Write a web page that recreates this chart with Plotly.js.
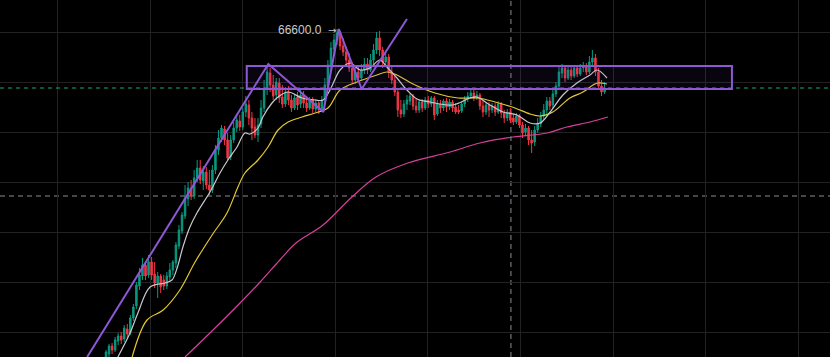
<!DOCTYPE html>
<html>
<head>
<meta charset="utf-8">
<script src="https://cdn.plot.ly/plotly-3.0.1.min.js"></script>
<style>html,body{margin:0;padding:0;background:#000;}#chart{width:830px;height:357px;}</style>
</head>
<body>
<div id="chart"></div>
<script>
// Daily candles (index = day number)
const openP = [33800,34100,34900,34500,35400,35900,35600,36600,36200,37700,
38900,40900,41900,43000,42000,43300,42100,41200,41900,41500,
40900,41800,42500,43200,44900,46400,47900,49600,50700,49900,
51700,52700,51400,52300,51000,50500,52500,54500,55700,56600,
55500,53800,55500,56700,57400,56800,58300,59000,57700,56800,
56000,57100,58700,60600,62200,61000,60000,61200,59800,59100,
60300,59500,58700,59800,59100,60000,59200,58700,59500,58600,
59200,58500,59500,60900,62900,64600,65500,66200,64900,64300,
63500,62700,61500,62300,61700,62500,63100,62500,63500,64500,
65700,64500,63300,63800,62300,61500,60300,58500,58100,59100,
59400,59900,58900,58500,59300,58700,59500,59100,59700,58100,
59100,58700,59400,58800,59300,58800,58500,58400,59100,59600,
59900,60200,59700,60000,58900,58300,59000,58500,58900,58300,
59100,58200,57700,58300,57700,57300,57900,57000,56300,56700,
55500,55300,56500,57100,57900,58500,59400,59000,60100,60900,
62200,62700,61700,62500,61900,62700,62100,62700,62900,62300,
63300,63700,62300,60900,60300];
const highP = [34500,35100,35200,35800,36200,36300,37000,37100,38000,39100,
41300,42700,43700,43300,44000,43800,43300,42300,42100,42000,
42300,43200,43500,45300,47000,48300,51000,51300,51500,52500,
53500,53500,52900,52800,52500,53000,55000,56500,57000,56900,
56200,56000,57300,58100,58000,58700,59900,59500,58300,57700,
57700,59500,61500,63000,62700,62000,61700,61700,61000,60800,
60900,60000,60100,60300,60500,60400,59900,59800,59800,59600,
59500,59900,61700,63500,65300,66100,66600,66400,65700,64800,
64200,63300,62900,62900,63100,63700,63700,64100,65100,66300,
66400,64800,64300,64100,62900,61900,60700,59500,59500,60000,
60200,60100,59700,59600,59600,59800,59900,59900,59900,59500,
59500,59600,59700,59600,59500,59200,59000,59300,59900,60300,
60600,60500,60400,60200,59500,59300,59300,59200,59200,59400,
59300,58500,58600,58700,58100,58200,58100,57300,57100,56900,
56500,56900,57700,58300,59100,59800,59800,60600,61300,62800,
63100,62900,62900,62900,63000,63000,63100,63300,63200,63900,
64500,64100,62700,61500,61300];
const lowP = [33500,33800,34100,34300,35000,35100,35300,35700,36000,37400,
38600,40500,41500,41500,41700,41500,40700,39700,40200,40500,
40600,41400,42000,42700,44600,46100,47600,48900,49500,49600,
51300,51100,50500,50600,50000,50200,52100,54000,55300,55000,
53500,53500,55200,56300,56400,56500,57800,57000,55500,55700,
55300,56700,58300,60000,60300,59500,59500,59200,58700,58800,
59000,58300,58500,58500,58700,58700,58300,58500,58200,58300,
58100,58300,59000,60500,62500,64000,65000,64500,63900,63100,
62300,61100,61100,61300,61500,62100,62100,62300,63100,64100,
63900,62700,62900,61700,61100,59900,57800,57700,57800,58500,
59000,58500,58200,58200,58300,58500,58700,58800,57500,57900,
58200,58400,58300,58500,58300,58100,58100,58200,58800,59300,
59700,59400,59500,58500,57800,58000,57800,58200,57900,58100,
57700,57200,57400,57200,57000,57100,56700,55700,56000,55000,
54200,54900,56200,56800,57500,58100,58500,58700,59800,60500,
61700,61300,61500,61500,61700,61800,61900,62300,62000,62100,
62900,61900,60500,59900,60100];
const closeP = [34300,34900,34500,35500,35900,35500,36700,36100,37700,38800,
41000,42000,43000,41900,43300,42000,41200,41900,40800,40900,
41900,42500,43300,45000,46500,48000,49700,50700,49900,51700,
52700,51500,52300,51000,50500,52500,54500,55700,56700,55500,
53700,55500,56700,57500,56800,58300,59100,57700,56700,56000,
57000,58700,60700,62300,61000,59900,61300,59700,59100,60300,
59500,58700,59700,59000,60000,59200,58700,59500,58600,59200,
58500,59500,61000,63000,64700,65500,66200,64900,64300,63500,
62700,61500,62300,61700,62500,63100,62500,63500,64500,65700,
64500,63300,63800,62300,61500,60300,58500,58100,59100,59500,
59900,58900,58500,59300,58700,59500,59100,59700,58000,59100,
58700,59400,58800,59300,58700,58300,58300,59100,59600,59900,
60200,59700,60000,58900,58300,59000,58500,58900,58300,59100,
58200,57700,58300,57500,57300,57900,57000,56200,56700,55500,
55200,56500,57100,57900,58500,59400,58900,60100,60900,62300,
62700,61700,62500,61900,62700,62100,62700,62900,62300,63300,
63700,62300,60900,60300,60700];

// Moving averages (day index, price)
const maFastX = [3.9,7.9,10.5,14.5,19.4,21.7,23.4,25.3,27.6,29.9,34.2,37.5,40.1,43.1,45.7,47.4,50.0,51.6,54.6,56.6,59.9,64.5,68.8,71.4,73.7,77.0,80.3,83.6,86.8,90.1,92.4,95.7,99.0,102.3,106.6,114.1,119.7,122.0,126.3,130.6,135.2,139.5,142.8,146.1,150.3,154.9,159.2,161.5,164.8];
const maFastY = [33800,36200,38200,40800,41200,41500,42700,44800,46800,48200,50300,52200,53500,54800,56200,56100,56700,57800,59200,59800,60300,59700,59500,59500,60500,62500,63200,62500,62700,63500,62800,61700,60500,59600,59300,59000,59700,59800,59000,58300,58000,57200,57200,58300,60000,61200,62000,62500,61700];
const maMidX = [8.6,13.5,18.8,24.3,29.3,34.9,39.8,43.4,45.7,50.0,53.3,56.6,59.9,64.5,68.8,73.0,77.0,82.6,89.1,92.4,95.7,101.0,108.2,115.8,122.4,128.0,134.5,139.5,142.8,147.0,152.6,156.9,160.2,161.8,164.8];
const maMidY = [33800,37500,38500,40500,43300,46000,48200,50800,52200,53500,54800,56500,57300,57800,58200,58700,60500,61300,62000,62300,62000,61100,60200,59700,59700,59300,58700,58100,57900,58300,59700,60300,61000,61200,61100];
const maSlowX = [26.0,35.2,44.1,50.7,57.2,62.5,71.4,80.9,88.8,99.3,113.2,123.0,133.9,145.1,151.6,159.2,165.1];
const maSlowY = [33800,36500,39200,41300,43500,45200,47000,49800,51800,53200,54300,55200,55800,56200,56800,57300,57800];

// Drawings
const zigX = [-6.2,53.4,71.5,76.6,84.1,99.0];
const zigY = [33800,63100,58300,66600,60600,67600];
const boxX = [46.3,205.9];
const boxY = [60600,62900];
const lastPrice = 60700;
const crossX = 133.2, crossY = 49900;
const peakLabel = '66600.0';
const peakArrow = '→';

const idx = closeP.map((_, i) => i);
const purple = '#8e57d6';

const traces = [
  {type:'candlestick', x: idx, open: openP, high: highP, low: lowP, close: closeP,
   increasing:{line:{color:'#089981', width:1}, fillcolor:'#089981'},
   decreasing:{line:{color:'#f23645', width:1}, fillcolor:'#f23645'},
   whiskerwidth:0, hoverinfo:'skip', showlegend:false},
  {type:'scatter', mode:'lines', x: maSlowX, y: maSlowY, line:{color:'#d6409a', width:1.2, shape:'spline'}, hoverinfo:'skip', showlegend:false},
  {type:'scatter', mode:'lines', x: maMidX, y: maMidY, line:{color:'#e3c733', width:1.2, shape:'spline'}, hoverinfo:'skip', showlegend:false},
  {type:'scatter', mode:'lines', x: maFastX, y: maFastY, line:{color:'#c9cad0', width:1.2, shape:'spline'}, hoverinfo:'skip', showlegend:false},
  {type:'scatter', mode:'lines', x: zigX, y: zigY, line:{color:purple, width:2}, hoverinfo:'skip', showlegend:false}
];

const pxPerDay = 3.04, firstPx = 106;
const layout = {
  width:830, height:357,
  margin:{l:0,r:0,t:0,b:0},
  paper_bgcolor:'#000', plot_bgcolor:'#000',
  showlegend:false,
  xaxis:{range:[-firstPx/pxPerDay, (830-firstPx)/pxPerDay], showticklabels:false, ticks:'',
         showgrid:true, gridcolor:'#222', gridwidth:1, zeroline:false, tick0:-15.95, dtick:30.46,
         rangeslider:{visible:false}, showline:false, fixedrange:true},
  yaxis:{range:[33800,69500], showticklabels:false, ticks:'', showgrid:true, gridcolor:'#222', gridwidth:1,
         zeroline:false, tick0:1300, dtick:5000, showline:false, fixedrange:true},
  shapes:[
    {type:'line', xref:'paper', x0:0, x1:1, yref:'y', y0:crossY, y1:crossY, line:{color:'#8a8d96', width:1, dash:'5px,4px'}, layer:'below'},
    {type:'line', yref:'paper', y0:0, y1:1, xref:'x', x0:crossX, x1:crossX, line:{color:'#8a8d96', width:1, dash:'5px,4px'}, layer:'below'},
    {type:'line', xref:'paper', x0:0, x1:1, yref:'y', y0:lastPrice, y1:lastPrice, line:{color:'#1fa37f', width:1, dash:'4px,4px'}},
    {type:'rect', xref:'x', yref:'y', x0:boxX[0], x1:boxX[1], y0:boxY[0], y1:boxY[1], line:{color:purple, width:2}, fillcolor:'rgba(120,60,180,0.08)'}
  ],
  annotations:[
    {x:71.6, y:66600, xref:'x', yref:'y', text:peakLabel, showarrow:false, xanchor:'right', yanchor:'middle',
     yshift:-1, font:{family:'Liberation Sans, Arial, sans-serif', size:12, color:'#c8cad0'}},
    {x:74.3, y:66600, xref:'x', yref:'y', text:peakArrow, showarrow:false, xanchor:'center', yanchor:'middle',
     yshift:-1, font:{family:'DejaVu Sans, sans-serif', size:10, color:'#c8cad0'}}
  ]
};
Plotly.newPlot('chart', traces, layout, {displayModeBar:false, staticPlot:true});
</script>
</body>
</html>
